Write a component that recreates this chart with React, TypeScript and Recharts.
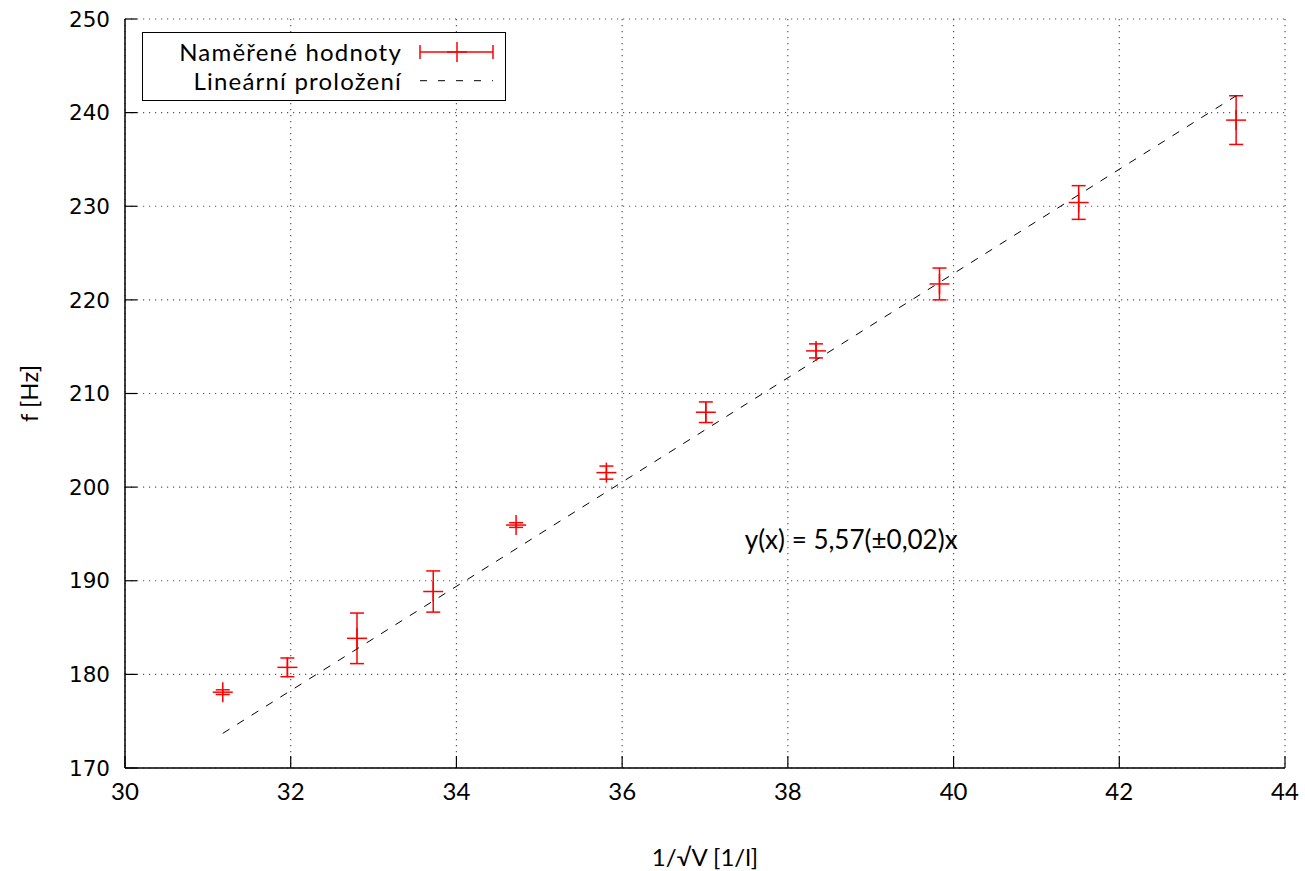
import {
  ScatterChart,
  Scatter,
  XAxis,
  YAxis,
  CartesianGrid,
  ErrorBar,
  Legend,
  ReferenceDot,
} from "recharts";

// measured values: x = 1/sqrt(V), f in Hz, with y-uncertainty
const xValues = [31.18, 31.96, 32.8, 33.72, 34.72, 35.81, 37.01, 38.34, 39.83, 41.51, 43.41];
const fValues = [178.1, 180.75, 183.85, 188.85, 195.95, 201.55, 208.0, 214.55, 221.7, 230.4, 239.2];
const fErrors = [0.25, 1.0, 2.7, 2.2, 0.25, 0.7, 1.1, 0.75, 1.7, 1.8, 2.6];

// linear fit y = 5.57x, drawn over the measured range
const fitX = [31.18, 43.41];
const fitY = [173.7, 241.8];

const xTicks = [30, 32, 34, 36, 38, 40, 42, 44];
const yTicks = [170, 180, 190, 200, 210, 220, 230, 240, 250];

const legendLabels = ["Naměřené hodnoty", "Lineární proložení"];
const fitLabel = "y(x) = 5,57(±0,02)x";
const xTitle = "1/√V [1/l]";
const yTitle = "f [Hz]";

const points = xValues.map((x, i) => ({ x, y: fValues[i], err: fErrors[i] }));
const fitLine = fitX.map((x, i) => ({ x, y: fitY[i] }));

const RED = "#ff0000";
const FONT = "Lato, 'Open Sans', sans-serif";
const TICK_FONT = "'DejaVu Sans', sans-serif";
const TICK_LEN = 12;

const Cross = (props: any) => {
  const { cx, cy } = props;
  return (
    <g stroke={RED} strokeWidth={1.5}>
      <line x1={cx - 10} y1={cy} x2={cx + 10} y2={cy} />
      <line x1={cx} y1={cy - 10} x2={cx} y2={cy + 10} />
    </g>
  );
};

const NoDot = () => <g />;

const LeftTick = (props: any) => {
  const { x, y, payload } = props;
  return (
    <g>
      <line x1={x + 15} x2={x + 15 + TICK_LEN} y1={y} y2={y} stroke="#000" strokeWidth={1.2} />
      <text x={x} y={y} dy="0.36em" textAnchor="end" fontFamily={TICK_FONT} fontSize={21.5} fill="#000">
        {payload.value}
      </text>
    </g>
  );
};

const RightTick = (props: any) => {
  const { x, y } = props;
  return <line x1={x} x2={x - TICK_LEN} y1={y} y2={y} stroke="#000" strokeWidth={1.2} />;
};

const BottomTick = (props: any) => {
  const { x, y, payload } = props;
  const axisY = y - 12;
  return (
    <g>
      <line x1={x} x2={x} y1={axisY} y2={axisY - TICK_LEN} stroke="#000" strokeWidth={1.2} />
      <text x={x} y={axisY + 32} textAnchor="middle" fontFamily={FONT} fontSize={24} fill="#000">
        {payload.value}
      </text>
    </g>
  );
};

const TopTick = (props: any) => {
  const { x, y } = props;
  return <line x1={x} x2={x} y1={y} y2={y + TICK_LEN} stroke="#000" strokeWidth={1.2} />;
};

const XTitle = (props: any) => {
  const { viewBox } = props;
  return (
    <text
      x={viewBox.x + viewBox.width / 2}
      y={viewBox.y + 90}
      dy="0.35em"
      textAnchor="middle"
      fontFamily={FONT}
      fontSize={24}
      fill="#000"
    >
      {xTitle}
    </text>
  );
};

const YTitle = (props: any) => {
  const { viewBox } = props;
  const cx = viewBox.x + 30;
  const cy = viewBox.y + viewBox.height / 2;
  return (
    <text
      x={cx}
      y={cy}
      dy="0.35em"
      textAnchor="middle"
      transform={`rotate(-90, ${cx}, ${cy})`}
      fontFamily={FONT}
      fontSize={24}
      fill="#000"
    >
      {yTitle}
    </text>
  );
};

const FitText = (props: any) => {
  const { viewBox } = props;
  return (
    <text x={viewBox.x} y={viewBox.y} dy="0.35em" fontFamily={FONT} fontSize={26} fill="#000">
      {fitLabel}
    </text>
  );
};

const renderLegend = () => (
  <div
    style={{
      position: "relative",
      boxSizing: "border-box",
      width: 364,
      height: 69,
      border: "1.2px solid #000",
      background: "#fff",
      fontFamily: FONT,
      fontSize: 24,
      letterSpacing: 1.2,
      color: "#000",
    }}
  >
    {legendLabels.map((label, i) => (
      <div
        key={label}
        style={{
          position: "absolute",
          right: 364 - 261,
          top: 18.8 + i * 29.1 - 13,
          height: 26,
          lineHeight: "26px",
          whiteSpace: "nowrap",
        }}
      >
        {label}
      </div>
    ))}
    <svg style={{ position: "absolute", left: 0, top: 0 }} width={362} height={67}>
      <g stroke={RED} strokeWidth={1.5}>
        <line x1={277} x2={350} y1={19} y2={19} />
        <line x1={277} x2={277} y1={12} y2={26} />
        <line x1={350} x2={350} y1={12} y2={26} />
        <line x1={304} x2={324} y1={19} y2={19} />
        <line x1={314} x2={314} y1={9} y2={29} />
      </g>
      <line x1={277} x2={350} y1={47.7} y2={47.7} stroke="#000" strokeWidth={1} strokeDasharray="7 11" />
    </svg>
  </div>
);

export default function App() {
  return (
    <div style={{ position: "absolute", left: 0, top: 0, background: "#fff" }}>
      <ScatterChart width={1305} height={871} margin={{ top: 19, right: 20, bottom: 0, left: 0 }}>
        <CartesianGrid stroke="#555" strokeWidth={1.2} strokeDasharray="1.2 4.8" />
        <XAxis
          type="number"
          dataKey="x"
          domain={[30, 44]}
          ticks={xTicks}
          interval={0}
          height={103}
          tickSize={0}
          tickMargin={12}
          tickLine={false}
          tick={<BottomTick />}
          axisLine={{ stroke: "#000", strokeWidth: 1.5 }}
          label={{ content: <XTitle /> }}
        />
        <XAxis
          xAxisId="top"
          orientation="top"
          type="number"
          domain={[30, 44]}
          ticks={xTicks}
          interval={0}
          height={0}
          tickSize={0}
          tickMargin={0}
          tickLine={false}
          tick={<TopTick />}
          axisLine={{ stroke: "#000", strokeWidth: 1.5 }}
        />
        <YAxis
          type="number"
          dataKey="y"
          domain={[170, 250]}
          ticks={yTicks}
          interval={0}
          width={125}
          tickSize={0}
          tickMargin={15}
          tickLine={false}
          tick={<LeftTick />}
          axisLine={{ stroke: "#000", strokeWidth: 1.5 }}
          label={{ content: <YTitle /> }}
        />
        <YAxis
          yAxisId="right"
          orientation="right"
          type="number"
          domain={[170, 250]}
          ticks={yTicks}
          interval={0}
          width={0}
          tickSize={0}
          tickMargin={0}
          tickLine={false}
          tick={<RightTick />}
          axisLine={{ stroke: "#000", strokeWidth: 1.5 }}
        />
        <Legend
          layout="vertical"
          align="center"
          verticalAlign="middle"
          wrapperStyle={{ left: 142, top: 32, width: 364 }}
          content={renderLegend}
        />
        <Scatter
          name="Lineární proložení"
          data={fitLine}
          line={{ stroke: "#000", strokeWidth: 1, strokeDasharray: "8 9" }}
          lineType="joint"
          shape={<NoDot />}
          isAnimationActive={false}
        />
        <Scatter name="Naměřené hodnoty" data={points} shape={<Cross />} isAnimationActive={false}>
          <ErrorBar dataKey="err" direction="y" width={7} stroke={RED} strokeWidth={1.5} isAnimationActive={false} />
        </Scatter>
        <ReferenceDot x={37.48} y={194.35} r={0} fill="none" stroke="none" label={{ content: <FitText /> }} />
      </ScatterChart>
    </div>
  );
}
